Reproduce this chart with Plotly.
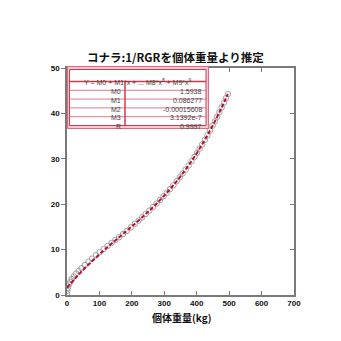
import plotly.graph_objects as go

# ---- data ----
weight_kg = [0, 1, 3, 6, 10, 15, 21, 28, 36, 45, 55, 66, 77, 89, 101, 113, 125, 137, 149,
             161, 173, 185, 197, 209, 221, 232, 243, 254, 265, 276, 287, 298, 308, 318, 328,
             338, 348, 357, 366, 375, 384, 393, 401, 409, 417, 425, 433, 441, 449, 456, 463,
             470, 477, 484, 490, 496]
rgr_inv = [0.3, 0.9, 1.6, 2.3, 2.9, 3.5, 4.1, 4.7, 5.3, 5.9, 6.6, 7.3, 8.0, 8.75, 9.45, 10.1,
           10.8, 11.45, 12.1, 12.75, 13.45, 14.15, 14.9, 15.65, 16.4, 17.12, 17.86, 18.6, 19.36,
           20.14, 20.94, 21.77, 22.55, 23.35, 24.18, 25.04, 25.93, 26.77, 27.63, 28.53, 29.46,
           30.43, 31.32, 32.24, 33.19, 34.17, 35.18, 36.22, 37.30, 38.27, 39.26, 40.28, 41.32,
           42.39, 43.33, 44.25]

fit_x = [0, 25, 50, 75, 100, 125, 150, 175, 200, 225, 250, 275, 300, 325, 350, 375, 400,
         425, 450, 475, 496]
fit_y = [1.594, 3.658, 5.557, 7.319, 8.974, 10.553, 12.083, 13.595, 15.117, 16.680, 18.313,
         20.045, 21.906, 23.924, 26.131, 28.553, 31.223, 34.168, 37.418, 41.003, 44.296]

table_header = "Y = M0 + M1*x + ... M8*x<sup>8</sup> + M9*x<sup>9</sup>"
param_names = ["M0", "M1", "M2", "M3", "R"]
param_values = ["1.5938", "0.086277", "-0.00015608", "3.1392e-7", "0.9997"]

x_ticks = [0, 100, 200, 300, 400, 500, 600, 700]
y_ticks = [0, 10, 20, 30, 40, 50]

title_text = "コナラ:1/RGRを個体重量より推定"
x_title = "個体重量(kg)"
y_title = "RGR<sup>-1</sup> (kg kg<sup>-1</sup> yr<sup>-1</sup>)"

# ---- layout geometry (pixels) ----
W = H = 341
L, R_, T, B = 67, 294, 68, 295
XMAX, YMAX = 700, 50


def dx(p):
    """pixel x -> data x"""
    return (p - L) / (R_ - L) * XMAX


def py(p):
    """pixel y -> paper y"""
    return (B - p) / (B - T)


JP = "Noto Sans CJK JP"
AX = "Liberation Sans, Arial, sans-serif"
axis_col = "#7a7a7a"

fig = go.Figure()
fig.add_trace(go.Scatter(
    x=weight_kg, y=rgr_inv, mode="markers",
    marker=dict(symbol="circle-open", size=5.5, color="#a0a0a0", line=dict(width=1)),
    showlegend=False))
fig.add_trace(go.Scatter(
    x=fit_x, y=fit_y, mode="lines", line_shape="spline",
    line=dict(color="#b8102e", width=2, dash="4px,2px"),
    showlegend=False))
fig.add_trace(go.Scatter(x=[None], y=[None], yaxis="y2", showlegend=False))

fig.update_layout(
    width=W, height=H, autosize=False,
    margin=dict(l=L, r=W - R_, t=T, b=H - B, autoexpand=False),
    paper_bgcolor="white", plot_bgcolor="white",
    xaxis=dict(range=[0, XMAX], tickvals=x_ticks, ticks="inside", ticklen=4,
               tickcolor=axis_col, showline=True, linecolor=axis_col, linewidth=1.5,
               mirror="ticks", showgrid=False, zeroline=False,
               tickfont=dict(family=AX, size=8, color="#111", weight="bold")),
    yaxis=dict(range=[0, YMAX], tickvals=y_ticks, ticks="outside", ticklen=4,
               tickcolor=axis_col, showline=True, linecolor=axis_col, linewidth=1.5,
               mirror=True, showgrid=False, zeroline=False,
               tickfont=dict(family=AX, size=8, color="#111", weight="bold")),
    yaxis2=dict(range=[0, YMAX], tickvals=y_ticks, overlaying="y", side="right",
                ticks="inside", ticklen=4, tickcolor=axis_col, showticklabels=False,
                showgrid=False, zeroline=False, showline=False),
)

annotations = [
    dict(text=title_text, x=dx(175), y=py(47), xref="x", yref="paper",
         showarrow=False, font=dict(family=JP, size=11.5, color="#111", weight="bold")),
    dict(text=x_title, x=dx(181), y=py(327), xref="x", yref="paper",
         showarrow=False, font=dict(family=JP, size=10, color="#111", weight="bold")),
    dict(text=y_title, x=dx(22), y=py(182), xref="x", yref="paper", textangle=-90,
         showarrow=False, font=dict(family=AX, size=10, color="#222")),
]

# ---- fit table ----
shapes = []
red = "#d0394e"
TL, TR, TT, TB = 67.5, 208.5, 66.5, 128.5
IL, IR, IT, IB = 69.5, 206, 69.5, 125.5
shapes.append(dict(type="rect", xref="x", yref="paper",
                   x0=dx(TL), x1=dx(TR), y0=py(TB), y1=py(TT),
                   line=dict(color="#e06a7c", width=1), fillcolor="#f4c9d0", layer="above"))
shapes.append(dict(type="rect", xref="x", yref="paper",
                   x0=dx(IL), x1=dx(IR), y0=py(IB), y1=py(IT),
                   line=dict(color=red, width=1), fillcolor="white", layer="above"))
head_bottom = 81.5
row_h = (IB - head_bottom) / len(param_names)
shapes.append(dict(type="line", xref="x", yref="paper",
                   x0=dx(IL), x1=dx(IR), y0=py(head_bottom), y1=py(head_bottom),
                   line=dict(color=red, width=1.5), layer="above"))
for i in range(1, len(param_names)):
    yy = head_bottom + row_h * i
    shapes.append(dict(type="line", xref="x", yref="paper",
                       x0=dx(IL), x1=dx(IR), y0=py(yy), y1=py(yy),
                       line=dict(color="#e07a8a", width=1), layer="above"))
shapes.append(dict(type="line", xref="x", yref="paper",
                   x0=dx(125), x1=dx(125), y0=py(head_bottom), y1=py(IB),
                   line=dict(color=red, width=1.5), layer="above"))

annotations.append(dict(text=table_header, x=dx(137.5), y=py(75.5), xref="x",
                        yref="paper", showarrow=False,
                        font=dict(family=AX, size=7, color="#444")))
for i, (n, v) in enumerate(zip(param_names, param_values)):
    yc = head_bottom + row_h * (i + 0.5)
    annotations.append(dict(text=n, x=dx(123), y=py(yc), xref="x", yref="paper",
                            xanchor="right", showarrow=False,
                            font=dict(family=AX, size=7, color="#444")))
    annotations.append(dict(text=v, x=dx(204), y=py(yc), xref="x", yref="paper",
                            xanchor="right", showarrow=False,
                            font=dict(family=AX, size=7, color="#444")))

fig.update_layout(shapes=shapes, annotations=annotations)
fig.write_html("out.html")
